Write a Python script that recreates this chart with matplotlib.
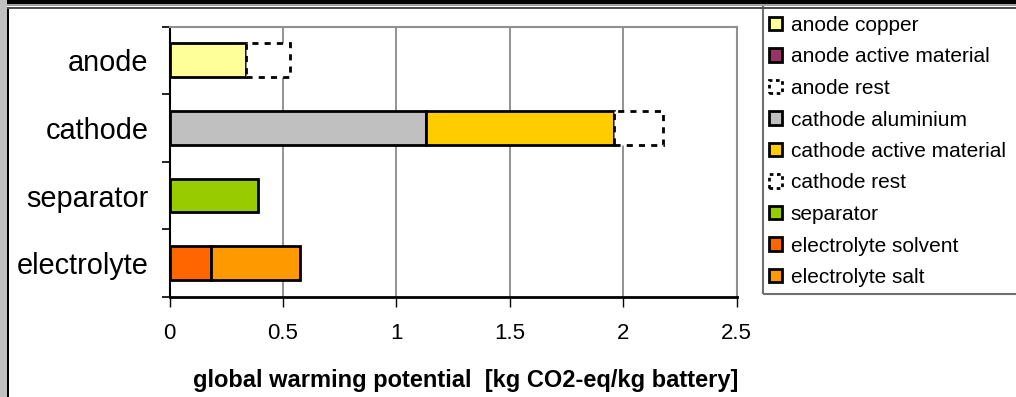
import matplotlib
matplotlib.use("Agg")
import matplotlib.pyplot as plt
from matplotlib.patches import Patch, Rectangle

plt.rcParams['font.family'] = ['Liberation Sans', 'DejaVu Sans']

categories = ["anode", "cathode", "separator", "electrolyte"]
series_names = ["anode copper", "anode active material", "anode rest",
                "cathode aluminium", "cathode active material", "cathode rest",
                "separator", "electrolyte solvent", "electrolyte salt"]
# value of each series per category (anode, cathode, separator, electrolyte)
anode_copper = [0.339, 0, 0, 0]
anode_active_material = [0.0, 0, 0, 0]
anode_rest = [0.192, 0, 0, 0]
cathode_aluminium = [0, 1.132, 0, 0]
cathode_active_material = [0, 0.829, 0, 0]
cathode_rest = [0, 0.214, 0, 0]
separator = [0, 0, 0.392, 0]
electrolyte_solvent = [0, 0, 0, 0.184]
electrolyte_salt = [0, 0, 0, 0.391]
x_ticks = [0, 0.5, 1, 1.5, 2, 2.5]
x_tick_labels = ["0", "0.5", "1", "1.5", "2", "2.5"]
x_label = "global warming potential  [kg CO2-eq/kg battery]"

series_values = [anode_copper, anode_active_material, anode_rest,
                 cathode_aluminium, cathode_active_material, cathode_rest,
                 separator, electrolyte_solvent, electrolyte_salt]
colors = ["#FFFF99", "#993366", "white", "#C0C0C0", "#FFCC00", "white",
          "#99CC00", "#FF6600", "#FF9900"]
dashed = [False, False, True, False, False, True, False, False, False]

W, H = 1016, 397
fig = plt.figure(figsize=(W / 100, H / 100), dpi=100)
fig.patch.set_facecolor("white")

def px(x0, y0, x1, y1):
    return [x0 / W, 1 - y1 / H, (x1 - x0) / W, (y1 - y0) / H]

ax = fig.add_axes(px(169.5, 26.5, 736.5, 297))

ypos = [3, 2, 1, 0]
left = [0.0] * len(categories)
dash_style = (0, (2.2, 2.2))
for vals, col, dsh in zip(series_values, colors, dashed):
    for i, v in enumerate(vals):
        if v > 0:
            ax.barh(ypos[i], v, left=left[i], height=0.5, color=col,
                    edgecolor="black", linewidth=2.0,
                    linestyle=dash_style if dsh else "solid", zorder=3)
        left[i] += v

ax.set_xlim(0, 2.5)
ax.set_ylim(-0.5, 3.5)
ax.set_xticks(x_ticks)
ax.set_xticklabels(x_tick_labels, fontsize=16)
ax.set_yticks(ypos)
ax.set_yticklabels(categories, fontsize=20.8)
ax.set_yticks([-0.5, 0.5, 1.5, 2.5, 3.5], minor=True)
ax.tick_params(axis="y", which="major", length=0, pad=15)
ax.tick_params(axis="y", which="minor", length=6, width=1.2, direction="out")
ax.tick_params(axis="x", length=7, width=1, direction="out", pad=12)
ax.grid(axis="x", color="#808080", linewidth=1.2, zorder=0)
ax.set_axisbelow(True)
for s in ["top", "right"]:
    ax.spines[s].set_color("#909090")
    ax.spines[s].set_linewidth(1.5)
ax.spines["left"].set_linewidth(1.5)
ax.spines["bottom"].set_linewidth(2)

fig.text(465.5 / W, 1 - 381 / H, x_label, fontsize=17, fontweight="bold",
         ha="center", va="center")

handles = [Patch(facecolor=c, edgecolor="black", linewidth=2.0,
                 linestyle=(0, (1.3, 1.3)) if d else "solid")
           for c, d in zip(colors, dashed)]
leg = fig.legend(handles, series_names, loc="upper left",
                 bbox_to_anchor=(769 / W, 1 - 16 / H), fontsize=15,
                 frameon=False, borderpad=0,
                 labelspacing=0.6, handlelength=0.62, handleheight=0.62,
                 handletextpad=0.42, borderaxespad=0)
# legend frame (extends past the right edge, as in the original)
fig.patches.append(Rectangle((763 / W, 1 - 293.5 / H), 300 / W, 290 / H,
                             transform=fig.transFigure, facecolor="none",
                             edgecolor="#707070", linewidth=1.5, zorder=5))

# outer frame decorations
fig.patches.append(Rectangle((0, 0), 7 / W, 1, transform=fig.transFigure,
                             facecolor="#C0C0C0", edgecolor="none", zorder=10))
fig.patches.append(Rectangle((7 / W, 0), 2 / W, 1 - 8 / H, transform=fig.transFigure,
                             facecolor="black", edgecolor="none", zorder=10))
fig.patches.append(Rectangle((7 / W, 1 - 4 / H), 1, 4 / H, transform=fig.transFigure,
                             facecolor="black", edgecolor="none", zorder=10))
fig.patches.append(Rectangle((7 / W, 1 - 6 / H), 1, 2 / H, transform=fig.transFigure,
                             facecolor="#A0A0A0", edgecolor="none", zorder=10))
fig.patches.append(Rectangle((7 / W, 1 - 9 / H), 1, 1.5 / H, transform=fig.transFigure,
                             facecolor="#505050", edgecolor="none", zorder=10))

fig.savefig("out.png", dpi=100)
